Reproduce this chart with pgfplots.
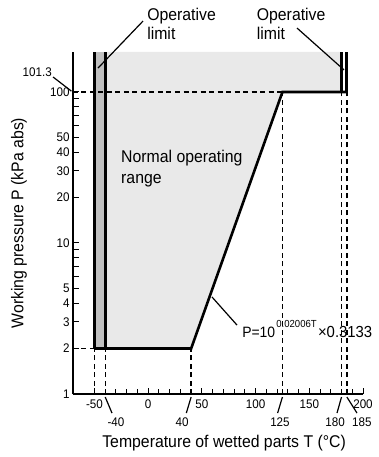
\documentclass[border=0pt]{standalone}
\usepackage{pgfplots}
\pgfplotsset{compat=1.18}
\usepackage{fontspec}
\setmainfont{Liberation Sans}[FakeStretch=0.93]
\definecolor{lightfill}{RGB}{233,233,233}
\definecolor{barfill}{RGB}{192,192,192}
\newcommand{\lab}{\fontsize{17bp}{20bp}\selectfont}
\newcommand{\tkl}{\fontsize{12.5bp}{14bp}\selectfont}
\begin{document}
\begin{tikzpicture}
\useasboundingbox (-73bp,-63bp) rectangle (306bp,394bp);
\begin{axis}[
  at={(0,0)}, anchor=south west,
  scale only axis, width=290bp, height=342bp,
  xmin=-70, xmax=200, ymode=log, ymin=1, ymax=184,
  axis lines=left, axis line style={-, line width=1.2bp},
  clip=false, no markers,
  xtick={-50,0,50,100,150,200},
  xticklabels={-50,0,50,100,150,200},
  minor x tick num=4,
  ytick={1,2,3,4,5,6,7,8,9,10,20,30,40,50,60,70,80,90,100},
  yticklabels={1,2,3,4,5,,,,,10,20,30,40,50,,,,,100},
  yminorticks=false,
  tick align=inside,
  major tick length=6bp, minor tick length=5bp,
  tick style={black, line width=1bp},
  /pgf/number format/assume math mode=true,
  tick label style={font=\tkl},
  xticklabel style={yshift=-2bp},
  xlabel={Temperature of wetted parts T (°C)},
  ylabel={Working pressure P (kPa abs)},
  label style={font=\lab},
  xlabel style={at={(axis description cs:0.521,-0.155)}, anchor=base},
  ylabel style={at={(axis description cs:-0.171,0.5)}, anchor=base},
]
% normal operating range
\addplot[draw=none, fill=lightfill] coordinates {(-40,184) (-40,2) (40,2) (125,100) (180,100) (180,184)};
% left operative limit bar
\addplot[draw=none, fill=barfill] coordinates {(-50,2) (-50,184) (-40,184) (-40,2)};
% dashed guide lines
\addplot[black, line width=1.4bp, dash pattern=on 5bp off 3.5bp] coordinates {(-70,100) (125,100)};
\addplot[black, line width=1.4bp, dash pattern=on 5bp off 3.5bp] coordinates {(-70,2) (-50,2)};
\addplot[black, line width=1.4bp, dash pattern=on 5bp off 3.5bp] coordinates {(-50,1) (-50,2)};
\addplot[black, line width=1.4bp, dash pattern=on 5bp off 3.5bp] coordinates {(-40,1) (-40,2)};
\addplot[black, line width=1.4bp, dash pattern=on 5bp off 3.5bp] coordinates {(40,1) (40,2)};
\addplot[black, line width=1.4bp, dash pattern=on 5bp off 3.5bp] coordinates {(125,1) (125,100)};
\addplot[black, line width=1.4bp, dash pattern=on 5bp off 3.5bp] coordinates {(180,1) (180,100)};
\addplot[black, line width=1.4bp, dash pattern=on 5bp off 3.5bp] coordinates {(185,1) (185,100)};
% solid limits
\addplot[black, line width=3bp] coordinates {(-50,2) (-50,184)};
\addplot[black, line width=3bp] coordinates {(-40,2) (-40,184)};
\addplot[black, line width=3bp] coordinates {(180,100) (180,184)};
\addplot[black, line width=3bp] coordinates {(185,100) (185,184)};
\addplot[black, line width=2.6bp, line join=miter] coordinates {(-50,2) (40,2) (125,100) (185,100)};
% annotations
\node[anchor=base west, inner sep=0, font=\lab] at (axis cs:-1,297) {Operative};
\node[anchor=base west, inner sep=0, font=\lab] at (axis cs:-1,223) {limit};
\draw[line width=1.2bp] (axis cs:-4.8,295) -- (axis cs:-46.7,144);
\node[anchor=base west, inner sep=0, font=\lab] at (axis cs:101,297) {Operative};
\node[anchor=base west, inner sep=0, font=\lab] at (axis cs:101,223) {limit};
\draw[line width=1.2bp] (axis cs:138.6,265) -- (axis cs:182.3,140);
\node[anchor=base east, inner sep=0, font=\tkl] at (axis cs:-89.6,127) {101.3};
\draw[line width=1.2bp] (axis cs:-88.6,125.7) -- (axis cs:-71.5,101.3);
\node[anchor=base west, inner sep=0, font=\lab] at (axis cs:-25.3,33.9) {Normal operating};
\node[anchor=base west, inner sep=0, font=\lab] at (axis cs:-25.3,24.9) {range};
\node[anchor=base west, inner sep=0, font=\fontsize{15bp}{17bp}\selectfont] (pa) at (axis cs:87.4,2.35) {P=10};
\node[anchor=base west, inner sep=0, font=\tkl, scale=0.82, transform shape, yshift=13bp, xshift=1bp] (pb) at (pa.base east) {0.02006T};
\node[anchor=base west, inner sep=0, font=\fontsize{16bp}{18bp}\selectfont, xshift=1bp] at (pb.base east |- pa.base) {×0.3133};
\draw[line width=1.2bp] (axis cs:59.4,4.39) -- (axis cs:82.7,2.86);
% second row of x labels
\node[inner sep=0, font=\tkl] at (axis cs:-30,0.653) {-40};
\draw[line width=1.2bp] (axis cs:-40,0.955) -- (axis cs:-33.7,0.748);
\node[inner sep=0, font=\tkl] at (axis cs:31.5,0.653) {40};
\draw[line width=1.2bp] (axis cs:40,0.955) -- (axis cs:35.5,0.748);
\node[inner sep=0, font=\tkl] at (axis cs:122.7,0.653) {125};
\draw[line width=1.2bp] (axis cs:125,0.955) -- (axis cs:120.5,0.748);
\node[inner sep=0, font=\tkl] at (axis cs:174,0.653) {180};
\draw[line width=1.2bp] (axis cs:180,0.955) -- (axis cs:175.8,0.748);
\node[inner sep=0, font=\tkl] at (axis cs:199,0.653) {185};
\draw[line width=1.2bp] (axis cs:185,0.955) -- (axis cs:194.4,0.748);
\end{axis}
\end{tikzpicture}
\end{document}
